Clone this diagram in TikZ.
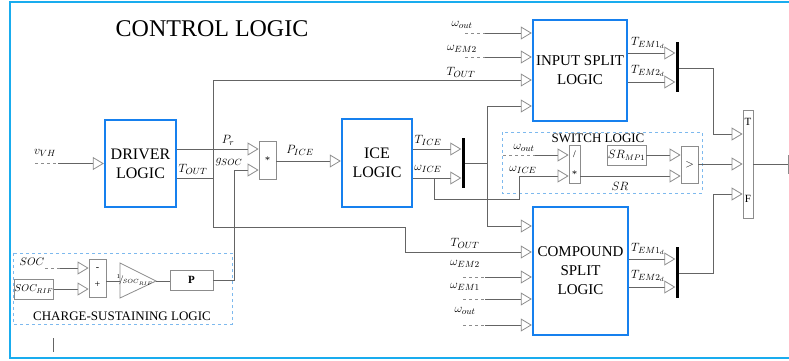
\documentclass[tikz,border=0pt]{standalone}
\usepackage{fontspec}
\setmainfont{Liberation Serif}
\usepackage{amsmath}
\usetikzlibrary{arrows.meta, positioning, calc}
\definecolor{frameblue}{RGB}{25,172,238}
\definecolor{boxblue}{RGB}{22,128,238}
\definecolor{groupblue}{RGB}{125,185,238}
\definecolor{wiregray}{RGB}{100,100,100}
\definecolor{tipgray}{RGB}{140,140,140}

\begin{document}
\begin{tikzpicture}[x=1pt, y=-1pt,
    wire/.style={draw=wiregray, line width=0.8pt},
    dwire/.style={draw=tipgray, dashed, line width=0.8pt},
    sig/.style={wire, -{Triangle[open, length=11pt, width=13pt, color=tipgray]}},
    logic/.style={draw=boxblue, line width=2.4pt, fill=white, align=center, inner sep=0pt, font=\fontsize{16}{19}\selectfont},
    gbox/.style={draw=tipgray, line width=0.8pt, fill=white, inner sep=0pt, align=center},
    mux/.style={fill=black, inner sep=0pt, minimum width=3pt},
    group/.style={draw=groupblue, dashed, line width=0.8pt},
    lbl/.style={font=\fontsize{12.5}{14}\selectfont, inner sep=0pt}]
    \useasboundingbox (0,0) rectangle (789,360);

    % Outer frame and title
    \draw[frameblue, line width=2pt] (10,2) rectangle (805,358);
    \node[font=\fontsize{24}{28}\selectfont] (title) at (212,29) {CONTROL LOGIC};
    \draw[wiregray, line width=0.8pt] (53,338) -- (53,352);

    % Dashed sub-systems
    \draw[group] (13,253) rectangle (232,324);
    \node[font=\fontsize{13}{15}\selectfont] (cslbl) at (122,316) {CHARGE-SUSTAINING LOGIC};
    \draw[group] (502,132) rectangle (702,193);
    \node[font=\fontsize{13}{15}\selectfont] (swlbl) at (598,138) {SWITCH LOGIC};

    % Main logic blocks
    \node[logic, minimum width=71pt, minimum height=87pt] (drv) at (140.5,163.5) {DRIVER\\LOGIC};
    \node[logic, minimum width=70pt, minimum height=88pt] (ice) at (377,163) {ICE\\LOGIC};
    \node[logic, font=\fontsize{15}{19}\selectfont, minimum width=94pt, minimum height=101pt] (ispl) at (580,70.5) {INPUT SPLIT\\LOGIC};
    \node[logic, font=\fontsize{15}{19}\selectfont, minimum width=95pt, minimum height=128pt] (cspl) at (580.5,271) {COMPOUND\\SPLIT\\LOGIC};

    % Small blocks
    \node[gbox, minimum width=17pt, minimum height=38pt, font=\fontsize{10}{12}\selectfont] (mult) at (267.5,160) {*};
    \node[gbox, minimum width=11pt, minimum height=38pt, font=\fontsize{10}{20}\selectfont] (div) at (574.5,164) {/\\*};
    \node[gbox, minimum width=39pt, minimum height=20pt, font=\fontsize{11.5}{13}\selectfont] (srmp) at (626.5,155) {$SR_{MP1}$};
    \node[gbox, minimum width=17pt, minimum height=37pt, font=\fontsize{11}{13}\selectfont] (cmp) at (689.5,164.5) {$>$};
    \node[gbox, minimum width=10pt, minimum height=108pt] (swt) at (748,164) {};
    \node[font=\fontsize{11}{13}\selectfont] (swT) at (748,122) {T};
    \node[font=\fontsize{11}{13}\selectfont] (swF) at (748,199) {F};
    \node[gbox, minimum width=14pt, minimum height=18pt] (outblk) at (795,164) {};
    \node[gbox, minimum width=36pt, minimum height=20pt, font=\fontsize{10}{12}\selectfont] (socrif) at (34,289) {$SOC_{RIF}$};
    \node[gbox, minimum width=17pt, minimum height=38pt, font=\fontsize{10}{17}\selectfont] (sum) at (97.5,278) {-\\+};
    \node[gbox, minimum width=43pt, minimum height=20pt, font=\fontsize{11}{13}\selectfont\bfseries] (pbox) at (191.5,280) {P};
    \draw[tipgray, line width=0.8pt] (120,263) -- (156,281) -- (120,298) -- cycle;
    \coordinate (gainin) at (120,281);
    \coordinate (gainout) at (156,281);
    \node[font=\fontsize{9}{10}\selectfont] (gainlbl) at (135,280) {$^1\!/_{\!SOC_{RIF}}$};

    % Mux bars
    \node[mux, minimum height=50pt] (mux1) at (463,163) {};
    \node[mux, minimum height=50pt] (mux2) at (677,67) {};
    \node[mux, minimum height=51pt] (mux3) at (677,272.5) {};

    % Driver input and outputs
    \coordinate (vvhin) at (35,163.5);
    \coordinate (vvh) at (58,163.5);
    \draw[dwire] (vvhin) -- (vvh);
    \draw[sig] (vvh) -- (drv.west |- vvh);
    \node[lbl] (vvhlbl) at (45,153) {$v_{VH}$};
    \draw[sig] (drv.east |- 0,149) -- (mult.west |- 0,149);
    \node[lbl] (prlbl) at (228,140) {$P_r$};
    \coordinate (tout) at (213,178);
    \draw[wire] (drv.east |- tout) -- (tout);
    \node[lbl] (toutlbl) at (193,169) {$T_{OUT}$};
    \draw[sig] (tout) |- (ispl.west |- 0,80);
    \draw[sig] (tout) |- (405,227) |- (cspl.west |- 0,252);

    % Charge-sustaining chain
    \coordinate (socdash) at (45,268);
    \coordinate (socin) at (60,268);
    \draw[dwire] (socdash) -- (socin);
    \draw[sig] (socin) -- (sum.west |- socin);
    \node[lbl, font=\fontsize{11}{12}\selectfont] (soclbl) at (32,262) {$SOC$};
    \draw[sig] (socrif.east) -- (sum.west |- socrif.east);
    \draw[wire] (sum.east |- gainin) -- (gainin);
    \draw[wire] (gainout) -- (pbox.west |- gainout);
    \draw[sig] (pbox.east) -| (234,170) -- (mult.west |- 0,170);
    \node[lbl] (gsoclbl) at (229,162) {$g_{SOC}$};

    % ICE logic
    \draw[sig] (mult.east |- 0,161) -- (ice.west |- 0,161);
    \node[lbl] (picelbl) at (300,150) {$P_{ICE}$};
    \draw[sig] (ice.east |- 0,149) -- (mux1.west |- 0,149);
    \draw[sig] (ice.east |- 0,178) -- (mux1.west |- 0,178);
    \node[lbl] (ticelbl) at (428,140) {$T_{ICE}$};
    \node[lbl] (wicelbl) at (428,169) {$\omega_{ICE}$};
    \coordinate (mx1) at (487,163);
    \draw[wire] (mux1.east |- mx1) -- (mx1);
    \draw[sig] (mx1) |- (ispl.west |- 0,106);
    \draw[sig] (mx1) |- (cspl.west |- 0,226);

    % Switch logic
    \coordinate (wice) at (434,178);
    \draw[sig] (wice) |- (519,199) |- (div.west |- 0,176);
    \coordinate (woutdash) at (503,155);
    \coordinate (woutsw) at (535,155);
    \draw[dwire] (woutdash) -- (woutsw);
    \draw[sig] (woutsw) -- (div.west |- woutsw);
    \node[lbl] (woutswlbl) at (524,148) {$\omega_{out}$};
    \node[lbl] (wiceswlbl) at (523,170) {$\omega_{ICE}$};
    \draw[sig] (div.east |- 0,176) -- (cmp.west |- 0,176);
    \node[lbl] (srlbl) at (620,186) {$SR$};
    \draw[sig] (srmp.east) -- (cmp.west |- srmp.east);
    \draw[sig] (cmp.east |- 0,164) -- (swt.west |- 0,164);
    \draw[wire] (swt.east |- 0,164) -- (outblk.west |- 0,164);

    % Input split logic
    \foreach \y/\name/\ly in {33/{\omega_{out}}/25, 57/{\omega_{EM2}}/49} {
        \coordinate (ia\y) at (465,\y);
        \coordinate (ib\y) at (485,\y);
        \draw[dwire] (ia\y) -- (ib\y);
        \draw[sig] (ib\y) -- (ispl.west |- ib\y);
        \node[lbl] (il\y) at (462,\ly) {$\name$};
    }
    \node[lbl] (toutilbl) at (461,72) {$T_{OUT}$};
    \draw[sig] (ispl.east |- 0,53) -- (mux2.west |- 0,53);
    \draw[sig] (ispl.east |- 0,82) -- (mux2.west |- 0,82);
    \node[lbl] (tem1i) at (648,43) {$T_{EM1_d}$};
    \node[lbl] (tem2i) at (648,71) {$T_{EM2_d}$};
    \draw[sig] (mux2.east |- 0,68) -| (713,134) -- (swt.west |- 0,134);

    % Compound split logic
    \foreach \y/\name/\ly in {277/{\omega_{EM2}}/264, 299/{\omega_{EM1}}/287, 325/{\omega_{out}}/311} {
        \coordinate (ca\y) at (463,\y);
        \coordinate (cb\y) at (485,\y);
        \draw[dwire] (ca\y) -- (cb\y);
        \draw[sig] (cb\y) -- (cspl.west |- cb\y);
        \node[lbl] (cl\y) at (465,\ly) {$\name$};
    }
    \node[lbl] (toutclbl) at (465,243) {$T_{OUT}$};
    \draw[sig] (cspl.east |- 0,259) -- (mux3.west |- 0,259);
    \draw[sig] (cspl.east |- 0,287) -- (mux3.west |- 0,287);
    \node[lbl] (tem1c) at (648,249) {$T_{EM1_d}$};
    \node[lbl] (tem2c) at (648,276) {$T_{EM2_d}$};
    \draw[sig] (mux3.east |- 0,273) -| (713,194) -- (swt.west |- 0,194);
\end{tikzpicture}
\end{document}
